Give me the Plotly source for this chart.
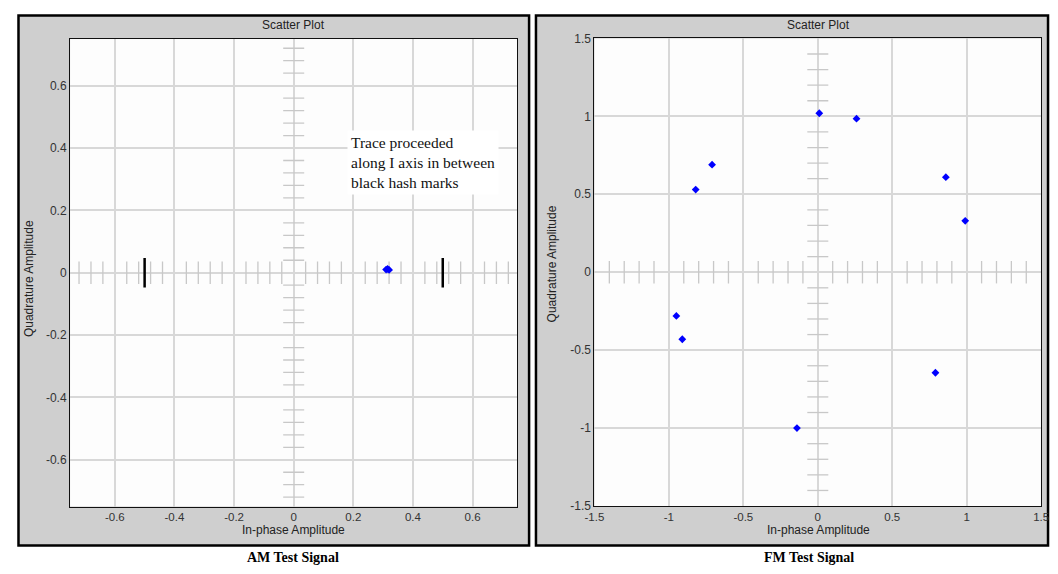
import numpy as np
import plotly.graph_objects as go

# page geometry (reference pixels); the page body adds an 8px margin
W, H = 1058, 574
OX, OY = 8, 8
FW, FH = W - OX, H - OY

# ---------------- data ----------------
am_i = [0.310, 0.315, 0.320]
am_q = [0.010, 0.012, 0.009]
am_hash_i = [-0.5, 0.5]

fm_i = [0.01, 0.26, -0.71, -0.82, 0.86, 0.99, -0.95, -0.91, 0.79, -0.14]
fm_q = [1.02, 0.985, 0.69, 0.53, 0.61, 0.33, -0.28, -0.43, -0.645, -1.0]

am_ticks = [-0.6, -0.4, -0.2, 0, 0.2, 0.4, 0.6]
am_tick_labels = ["-0.6", "-0.4", "-0.2", "0", "0.2", "0.4", "0.6"]
fm_ticks = [-1.5, -1, -0.5, 0, 0.5, 1, 1.5]
fm_tick_labels = ["-1.5", "-1", "-0.5", "0", "0.5", "1", "1.5"]
am_minor_step = 0.04
fm_minor_step = 0.1


def px(x):
    return (x - OX) / FW


def py(y):
    return 1 - (y - OY) / FH


def minor_positions(lim, step, major):
    n = int(round(lim / step))
    vals = [round(k * step, 4) for k in range(-n, n + 1)]
    return [v for v in vals if abs(v / major - round(v / major)) > 1e-6 and abs(v) < lim - 1e-6]


GRID = "#d8d8d8"
TICKC = "#c8c8c8"
PANEL = "#cfcfcf"
FONT = "Liberation Sans, Arial, sans-serif"
SERIF = "Liberation Serif, Times New Roman, serif"

fig = go.Figure()

# ---- minor ticks along the centre axes ----
am_minor = minor_positions(0.75, am_minor_step, 0.2)
fm_minor = minor_positions(1.5, fm_minor_step, 0.5)

for xa, ya, minor in [("x", "y", am_minor), ("x2", "y2", fm_minor)]:
    fig.add_trace(go.Scatter(x=minor, y=[0] * len(minor), xaxis=xa, yaxis=ya, mode="markers",
                             marker=dict(symbol="line-ns", size=16, line=dict(color=TICKC, width=1.3)),
                             hoverinfo="skip", showlegend=False))
    fig.add_trace(go.Scatter(x=[0] * len(minor), y=minor, xaxis=xa, yaxis=ya, mode="markers",
                             marker=dict(symbol="line-ew", size=15, line=dict(color=TICKC, width=1.3)),
                             hoverinfo="skip", showlegend=False))

# black hash marks on the AM plot
fig.add_trace(go.Scatter(x=am_hash_i, y=[0] * len(am_hash_i), xaxis="x", yaxis="y", mode="markers",
                         marker=dict(symbol="line-ns", size=21, line=dict(color="black", width=2.5)),
                         hoverinfo="skip", showlegend=False))

# data points
fig.add_trace(go.Scatter(x=am_i, y=am_q, xaxis="x", yaxis="y", mode="markers",
                         marker=dict(symbol="diamond", size=6, color="#0000ff"), showlegend=False))
fig.add_trace(go.Scatter(x=fm_i, y=fm_q, xaxis="x2", yaxis="y2", mode="markers",
                         marker=dict(symbol="diamond", size=6, color="#0000ff"), showlegend=False))

axis_common = dict(showgrid=True, gridcolor=GRID, gridwidth=1.5, zeroline=True, zerolinecolor=GRID,
                   zerolinewidth=1.5, showline=True, linecolor="#111111", linewidth=1.2, mirror=True,
                   ticks="", fixedrange=True, ticklabeloverflow="allow")
xfont = dict(family=FONT, size=11.5, color="#333333")
yfont = dict(family=FONT, size=12, color="#333333")

fig.update_layout(
    width=FW, height=FH,
    margin=dict(l=0, r=0, t=0, b=0),
    paper_bgcolor="white",
    plot_bgcolor="white",
    showlegend=False,
    xaxis=dict(domain=[px(61), px(516)], range=[-0.75, 0.75], tickvals=am_ticks, ticktext=am_tick_labels,
               tickfont=xfont, anchor="y", **axis_common),
    yaxis=dict(domain=[py(512), py(32.5)], range=[-0.75, 0.75], tickvals=am_ticks, ticktext=am_tick_labels,
               tickfont=yfont, anchor="x", **axis_common),
    xaxis2=dict(domain=[px(594.5), px(1049)], range=[-1.5, 1.5], tickvals=fm_ticks, ticktext=fm_tick_labels,
                tickfont=xfont, anchor="y2", **axis_common),
    yaxis2=dict(domain=[py(511.5), py(32)], range=[-1.5, 1.5], tickvals=fm_ticks, ticktext=fm_tick_labels,
                tickfont=yfont, anchor="x2", **axis_common),
)

# grey panel frames
for x0, x1 in [(8.5, 528), (535, 1056)]:
    fig.add_shape(type="rect", xref="paper", yref="paper", x0=px(x0), x1=px(x1), y0=py(552), y1=py(8.5),
                  fillcolor=PANEL, line=dict(color="black", width=2.5), layer="below")
# white plotting areas
for xr, yr in [("x domain", "y domain"), ("x2 domain", "y2 domain")]:
    fig.add_shape(type="rect", xref=xr, yref=yr, x0=0, x1=1, y0=0, y1=1,
                  fillcolor="#fdfdfd", line=dict(width=0), layer="below")


def text(x, y, s, size=12, family=FONT, xanchor="center", yanchor="middle", angle=0, color="#222222", **kw):
    fig.add_annotation(x=px(x), y=py(y), xref="paper", yref="paper", text=s, showarrow=False,
                       xanchor=xanchor, yanchor=yanchor, textangle=angle,
                       font=dict(family=family, size=size, color=color), **kw)


text(288, 18, "Scatter Plot")
text(822, 18, "Scatter Plot")
text(288, 536, "In-phase Amplitude")
text(822, 536, "In-phase Amplitude")
text(20, 278, "Quadrature Amplitude", angle=-90)
text(551, 263, "Quadrature Amplitude", angle=-90)
text(288, 564, "<b>AM Test Signal</b>", size=14, family=SERIF, color="black")
text(813, 564, "<b>FM Test Signal</b>", size=14, family=SERIF, color="black")
text(343, 126, "Trace proceeded<br>along I axis in between<br>black hash marks", size=15.5, family=SERIF,
     xanchor="left", yanchor="top", color="#111111", align="left", bgcolor="white", borderpad=3)

fig.write_html("out.html")
